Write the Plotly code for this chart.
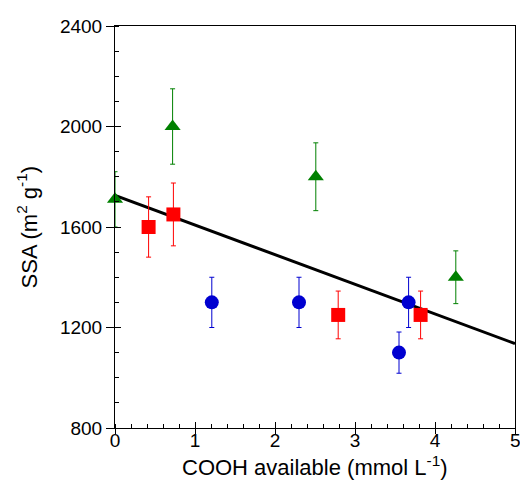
import plotly.graph_objects as go

# Green triangles
tri_x = [0.0, 0.72, 2.51, 4.26]
tri_y = [1710, 2000, 1800, 1400]
tri_err = [110, 150, 135, 105]

# Red squares
sq_x = [0.42, 0.73, 2.79, 3.82]
sq_y = [1600, 1650, 1250, 1250]
sq_err = [120, 125, 95, 95]

# Blue circles
ci_x = [1.21, 2.30, 3.55, 3.67]
ci_y = [1300, 1300, 1100, 1300]
ci_err = [100, 100, 82, 100]

# Linear fit
fit_x = [0, 5]
fit_y = [1726, 1136]

x_ticks = [0, 1, 2, 3, 4, 5]
x_ticktext = ["0", "1", "2", "3", "4", "5"]
y_ticks = [800, 1200, 1600, 2000, 2400]

FONT = "Liberation Sans, Arial, sans-serif"

fig = go.Figure()

fig.add_trace(
    go.Scatter(
        x=fit_x,
        y=fit_y,
        mode="lines",
        line=dict(color="black", width=3),
        showlegend=False
    )
)

series = [
    (tri_x, tri_y, tri_err, "#008000", "triangle-up", 14),
    (sq_x, sq_y, sq_err, "#ff0000", "square", 14),
    (ci_x, ci_y, ci_err, "#0000d0", "circle", 14),
]
for xs, ys, es, col, sym, sz in series:
    fig.add_trace(
        go.Scatter(
            x=xs,
            y=ys,
            mode="markers",
            marker=dict(color=col, symbol=sym, size=sz, line=dict(width=0)),
            error_y=dict(type="data", array=es, color=col, thickness=1, width=2.5),
            cliponaxis=False,
            showlegend=False
        )
    )

# dummy trace so the overlay axes (inside half of major ticks) get drawn
fig.add_trace(go.Scatter(x=[], y=[], xaxis="x2", yaxis="y2", showlegend=False))

axis_common = dict(
    showgrid=False,
    zeroline=False,
    showline=True,
    linecolor="black",
    linewidth=1,
    tickcolor="black",
    tickfont=dict(family=FONT, size=19, color="black"),
)

# last x label is drawn as an annotation so it can run off the edge
# without plotly shrinking the plot area
axis_labels = x_ticktext[:-1] + [""]

fig.update_layout(
    width=520,
    height=491,
    margin=dict(l=115, r=5, t=26, b=63),
    plot_bgcolor="white",
    paper_bgcolor="white",
    xaxis=dict(
        range=[0, 5],
        tickvals=x_ticks,
        ticktext=axis_labels,
        ticks="outside",
        ticklen=5,
        ticklabelstandoff=-10,
        mirror=True,
        minor=dict(dtick=0.2, tick0=0, ticks="inside", ticklen=4, tickcolor="black"),
        **axis_common
    ),
    yaxis=dict(
        range=[800, 2400],
        tickvals=y_ticks,
        ticks="outside",
        ticklen=8,
        mirror=True,
        minor=dict(dtick=100, tick0=800, ticks="inside", ticklen=4, tickcolor="black"),
        **axis_common
    ),
    xaxis2=dict(
        range=[0, 5], overlaying="x", anchor="y2", side="bottom",
        tickvals=x_ticks, ticks="inside", ticklen=6, tickcolor="black",
        showticklabels=False, showgrid=False, zeroline=False, showline=False
    ),
    yaxis2=dict(
        range=[800, 2400], overlaying="y", anchor="x2", side="left",
        tickvals=y_ticks, ticks="inside", ticklen=6, tickcolor="black",
        showticklabels=False, showgrid=False, zeroline=False, showline=False
    ),
    annotations=[
        dict(
            text=x_ticktext[-1],
            xref="x", yref="paper", x=x_ticks[-1], y=-0.031,
            xanchor="center", yanchor="middle", showarrow=False,
            font=dict(family=FONT, size=19, color="black")
        ),
        dict(
            text="COOH available (mmol L<sup>-1</sup>)",
            xref="paper", yref="paper", x=0.5, y=-0.095,
            xanchor="center", yanchor="middle", showarrow=False,
            font=dict(family=FONT, size=22, color="black")
        ),
        dict(
            text="SSA (m<sup>2</sup> g<sup>-1</sup>)",
            xref="paper", yref="paper", x=-0.219, y=0.5,
            xanchor="center", yanchor="middle", textangle=-90, showarrow=False,
            font=dict(family=FONT, size=22, color="black")
        ),
    ],
)

# drop the default 8px page margin so the figure sits at the window's corner
fig.write_html(
    "out.html",
    config={"displayModeBar": False},
    post_script="document.body.style.margin='0';"
)
